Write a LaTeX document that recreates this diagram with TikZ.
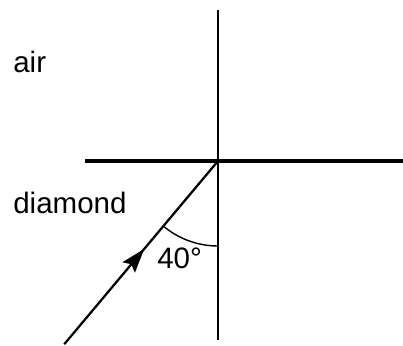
\documentclass[tikz,border=0pt]{standalone}
\usepackage{fontspec}
\setmainfont{Liberation Sans}
\usetikzlibrary{arrows.meta,decorations.markings,calc,positioning}

\begin{document}
\begin{tikzpicture}[>=Stealth]
  \useasboundingbox (0,0) rectangle (10.075,8.625);
  \tikzset{
    medium/.style={font=\fontsize{21}{25}\selectfont,inner sep=0pt},
    midarrow/.style={decoration={markings,
      mark=at position 0.52 with {\arrow{Stealth[length=6mm,width=4mm,inset=1mm]}}},
      postaction={decorate}}
  }
  \coordinate (O) at (5.45,4.6);
  \coordinate (top) at (5.45,8.375);
  \coordinate (bottom) at (5.45,0.125);
  \coordinate (left) at (2.125,4.6);
  \coordinate (right) at (10.075,4.6);
  \coordinate (ray) at ($(O)+(230:5.98)$);
  % normal and boundary
  \draw[line width=1.4pt] (top) -- (bottom);
  \draw[line width=2.6pt] (left) -- (right);
  % incident ray
  \draw[line width=1.6pt,midarrow] (ray) -- (O);
  \draw[line width=1pt] ($(O)+(230:2.125)$) arc[start angle=230,end angle=270,radius=2.125];
  \node[medium,anchor=base west] (air) at (0.325,6.8) {air};
  \node[medium,anchor=base west] (diamond) at (0.325,3.3) {diamond};
  \node[medium,anchor=base west] (angle) at (3.925,1.925) {40°};
\end{tikzpicture}
\end{document}
